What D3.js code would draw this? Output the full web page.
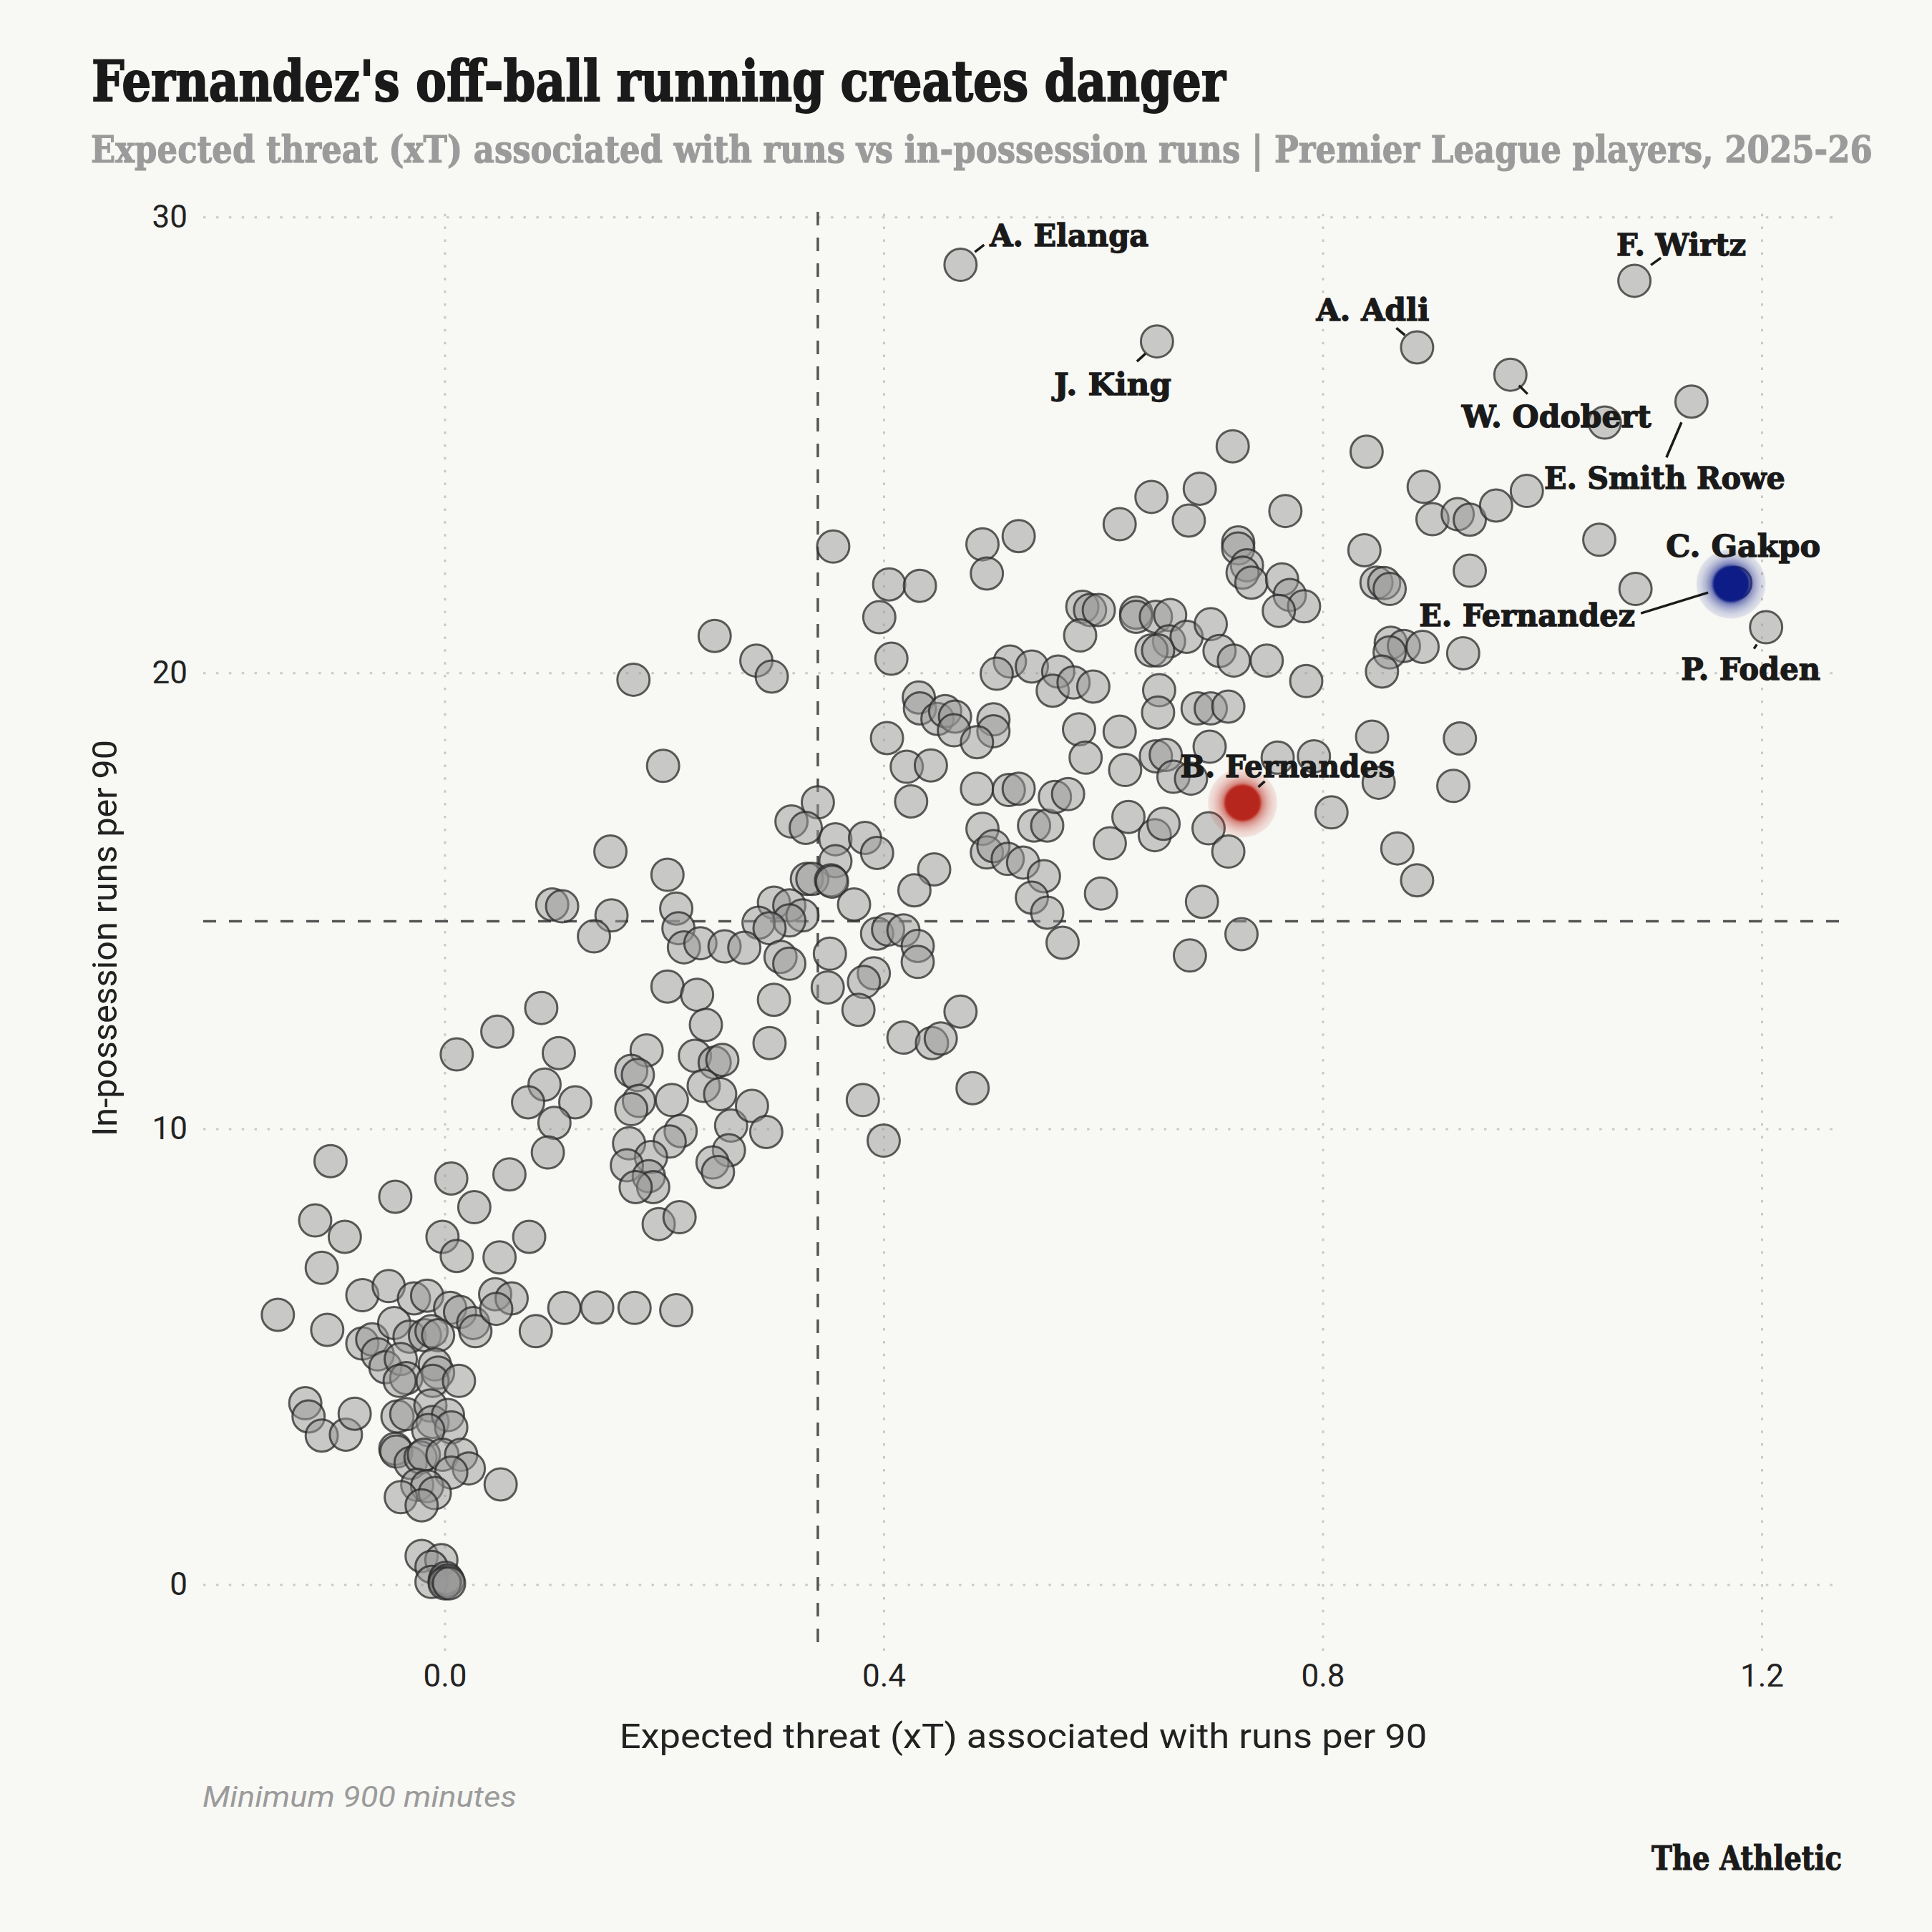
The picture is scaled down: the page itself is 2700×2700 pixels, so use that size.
<!DOCTYPE html>
<html><head><meta charset="utf-8">
<script src="https://cdn.jsdelivr.net/npm/d3@7"></script>
<style>html,body{margin:0;padding:0;background:#f8f8f4;}svg{display:block;}</style>
</head><body>
<script>
// ---------------- DATA ----------------
const xTicks = [0, 0.4, 0.8, 1.2];
const yTicks = [0, 10, 20, 30];
const xTickLabels = ["0.0", "0.4", "0.8", "1.2"];
const yTickLabels = ["0", "10", "20", "30"];
const avgXT = 0.340;
const avgRuns = 14.55;

// [xT from runs per 90, in-possession runs per 90]
const grayPoints = [
[-0.118,7.99],[-0.091,7.63],[-0.112,6.95],[-0.152,5.92],[-0.075,6.35],[-0.051,6.55],[-0.028,6.28],[-0.016,6.34],[-0.107,5.59],[-0.002,7.63],[0.011,7.21],[0.050,7.18],[0.077,7.63],
[0.005,6.07],[0.014,5.98],[0.026,5.74],[0.028,5.56],[0.046,6.37],[0.061,6.28],[0.047,6.05],[0.083,5.56],[0.109,6.07],[0.139,6.08],[0.173,6.07],[0.211,6.02],
[-0.075,5.29],[-0.066,5.38],[-0.061,5.05],[-0.054,4.77],[-0.046,5.74],[-0.032,5.44],[-0.018,5.47],[-0.012,5.56],[-0.006,5.47],[-0.040,4.95],[-0.035,4.53],[-0.041,4.47],[-0.009,4.83],[-0.006,4.65],[-0.011,4.47],[0.013,4.47],
[-0.127,3.98],[-0.124,3.69],[-0.112,3.27],[-0.090,3.29],[-0.082,3.75],[-0.043,3.69],[-0.035,3.74],[-0.013,3.93],[-0.011,3.57],[0.003,3.72],[0.006,3.45],[-0.015,3.39],
[-0.045,2.98],[-0.044,2.92],[-0.031,2.67],[-0.022,2.79],[-0.019,2.85],[-0.002,2.85],[0.015,2.85],[0.022,2.55],[0.006,2.46],[-0.025,2.19],[-0.016,2.16],[-0.009,2.01],[-0.040,1.92],[-0.021,1.74],[0.051,2.20],
[-0.021,0.63],[-0.003,0.54],[-0.012,0.39],[-0.012,0.06],[0.000,0.09],[0.001,0.15],[0.003,0.09],[0.000,0.03],[0.004,0.03],
[0.151,16.08],[0.203,15.57],[0.098,14.92],[0.107,14.88],[0.152,14.68],[0.136,14.22],[0.211,14.83],[0.213,14.40],[0.218,13.98],[0.233,14.07],[0.255,14.00],
[0.203,13.12],[0.230,12.94],[0.238,12.28],[0.088,12.65],[0.048,12.13],[0.011,11.63],[0.104,11.66],[0.091,10.97],[0.076,10.58],[0.119,10.58],[0.100,10.13],[0.094,9.48],
[0.184,11.72],[0.170,11.27],[0.176,11.18],[0.177,10.61],[0.170,10.43],[0.207,10.63],[0.228,11.60],[0.246,11.45],[0.253,11.51],[0.236,10.94],[0.251,10.76],
[0.215,9.95],[0.205,9.72],[0.168,9.68],[0.188,9.38],[0.166,9.20],[0.186,8.96],[0.190,8.72],[0.174,8.72],[0.261,10.07],[0.259,9.53],[0.244,9.26],[0.249,9.05],
[0.195,7.91],[0.214,8.06],[-0.104,9.29],[-0.045,8.51],[0.006,8.91],[0.027,8.28],[0.059,9.00],
[0.340,17.16],[0.316,16.74],[0.329,16.60],[0.356,16.35],[0.383,16.38],[0.394,16.05],[0.356,15.87],[0.330,15.48],[0.335,15.48],[0.352,15.45],[0.353,15.42],
[0.373,14.92],[0.300,14.96],[0.314,14.90],[0.326,14.68],[0.314,14.57],[0.286,14.52],[0.296,14.40],[0.273,13.97],[0.306,13.77],[0.314,13.62],[0.351,13.84],
[0.394,14.28],[0.404,14.37],[0.418,14.35],[0.431,14.01],[0.431,13.66],[0.391,13.41],[0.382,13.22],[0.349,13.10],[0.377,12.61],[0.300,12.83],[0.296,11.88],
[0.425,17.18],[0.446,15.69],[0.428,15.23],[0.418,12.00],[0.444,11.88],[0.452,11.98],[0.470,12.57],[0.381,10.63],[0.400,9.74],[0.481,10.89],
[0.490,16.58],[0.494,16.06],[0.500,16.20],[0.513,15.92],[0.527,15.84],[0.546,15.54],[0.535,15.07],[0.549,14.74],[0.563,14.08],[0.537,16.65],[0.549,16.65],
[0.485,17.46],[0.514,17.43],[0.523,17.46],[0.556,17.28],[0.568,17.34],[0.606,16.26],[0.623,16.84],[0.647,16.44],[0.655,16.69],[0.598,15.16],[0.690,14.98],[0.679,13.80],[0.696,16.59],
[0.280,10.50],[0.293,9.93],
[0.246,20.81],[0.172,19.85],[0.199,17.96],
[0.354,22.77],[0.405,21.94],[0.433,21.91],[0.396,21.22],[0.407,20.31],[0.284,20.27],[0.298,19.92],[0.490,22.82],[0.523,23.00],[0.494,22.18],
[0.615,23.26],[0.644,23.86],[0.688,24.04],[0.678,23.34],[0.581,21.45],[0.588,21.38],[0.596,21.38],[0.579,20.82],[0.630,21.32],[0.630,21.23],[0.648,21.23],[0.661,21.27],
[0.660,20.69],[0.676,20.79],[0.644,20.49],[0.650,20.49],[0.698,21.07],[0.706,20.48],[0.515,20.25],[0.503,19.98],[0.535,20.14],[0.559,20.03],[0.554,19.61],[0.573,19.79],[0.591,19.70],
[0.432,19.46],[0.433,19.22],[0.449,18.99],[0.456,19.16],[0.465,19.04],[0.464,18.74],[0.500,18.98],[0.500,18.72],[0.485,18.48],[0.403,18.57],[0.421,17.94],[0.443,17.97],
[0.578,18.76],[0.584,18.14],[0.615,18.71],[0.620,17.87],[0.651,19.62],[0.650,19.13],[0.686,19.22],[0.698,19.22],[0.697,18.38],[0.648,18.17],[0.657,18.20],[0.664,17.72],
[0.718,24.97],[0.766,23.55],[0.840,24.85],[0.892,24.08],[0.900,23.37],[0.923,23.48],[0.934,23.36],[0.958,23.67],[0.986,23.99],[1.057,25.49],[1.052,22.92],[1.085,21.84],
[0.934,22.24],[0.838,22.69],[0.849,21.98],[0.856,21.97],[0.861,21.84],[0.723,22.86],[0.723,22.73],[0.731,22.36],[0.727,22.20],[0.735,21.98],[0.763,22.05],[0.770,21.71],[0.783,21.46],[0.760,21.36],
[0.719,20.27],[0.749,20.27],[0.785,19.82],[0.862,20.66],[0.874,20.59],[0.891,20.57],[0.861,20.45],[0.854,20.03],[0.928,20.43],[0.714,19.26],[0.759,18.14],[0.792,18.17],[0.680,17.68],
[0.714,16.08],[0.845,18.60],[0.851,17.59],[0.925,18.56],[0.919,17.52],[0.808,16.94],[0.868,16.15],[0.886,15.45],[0.726,14.27]
];

// labelled players
const labelNames = ["A. Elanga","J. King","A. Adli","F. Wirtz","W. Odobert","E. Smith Rowe","C. Gakpo","E. Fernandez","P. Foden","B. Fernandes"];
const labelXT    = [0.470, 0.649, 0.886, 1.084, 0.971, 1.136, 1.176, 1.172, 1.204, 0.727];
const labelRuns  = [28.95, 27.27, 27.14, 28.60, 26.54, 25.95, 21.97, 21.95, 21.00, 17.15];
const highlighted = ["E. Fernandez", "B. Fernandes"];

// ---------------- STYLE / LAYOUT ----------------
const W = 2700, H = 2700;
const bg = "#f8f8f4";
const highlightColor = {"E. Fernandez": "#0a1a86", "B. Fernandes": "#b7251a"};
// label placement offsets (px, relative to the point)
const labelLayout = {
  "A. Elanga":    {dx: 41,  dy: -26, anchor: "start", w: 222, lead: [20,-18,33,-28]},
  "J. King":      {dx: 20,  dy: 75,  anchor: "end",   w: 164, lead: [-28,28,-16,17]},
  "A. Adli":      {dx: 17,  dy: -37, anchor: "end",   w: 158, lead: [-29,-27,-17,-17]},
  "F. Wirtz":     {dx: -25, dy: -35, anchor: "start", w: 181, lead: [23,-22,37,-32]},
  "W. Odobert":   {dx: -68, dy: 73,  anchor: "start", w: 265, lead: [12,15,24,27]},
  "E. Smith Rowe":{dx: 131, dy: 122, anchor: "end",   w: 337, lead: [-14,29,-35,78]},
  "C. Gakpo":     {dx: -97, dy: -37, anchor: "start", w: 216, lead: null},
  "E. Fernandez": {dx: -134,dy: 59,  anchor: "end",   w: 302, lead: [-126,41,-32,12]},
  "P. Foden":     {dx: 76,  dy: 73,  anchor: "end",   w: 195, lead: [-17,30,-13,24]},
  "B. Fernandes": {dx: -87, dy: -36, anchor: "start", w: 300, lead: [22,-22,31,-30]}
};
const slab = "'DejaVu Serif', serif";
const sans = "Roboto, 'Liberation Sans', sans-serif";

const svg = d3.select("body").append("svg").attr("width", W).attr("height", H);
svg.append("rect").attr("width", W).attr("height", H).attr("fill", bg);

// helper: put a text at (tx,ty) and squeeze it horizontally to a target width
function fitText(sel, tx, ty, width) {
  const len = sel.node().getComputedTextLength();
  const s = len > 0 ? width / len : 1;
  sel.attr("x", 0).attr("y", 0).attr("transform", `translate(${tx},${ty}) scale(${s},1)`);
  return sel;
}

const x = d3.scaleLinear().domain([-0.22, 1.273]).range([284, 2574]);
const y = d3.scaleLinear().domain([-1.45, 30.05]).range([2307, 300]);

// gridlines
const gridStyle = g => {
  g.select(".domain").remove();
  g.selectAll(".tick line").attr("stroke", "#c9c9c5").attr("stroke-width", 3).attr("stroke-dasharray", "3.5 14.4");
  g.selectAll(".tick text").remove();
};
svg.append("g").attr("transform", `translate(0,${y.range()[0]})`)
  .call(d3.axisBottom(x).tickValues(xTicks).tickSize(-(y.range()[0] - 290)))
  .call(gridStyle);
svg.append("g").attr("transform", `translate(${x.range()[0]},0)`)
  .call(d3.axisLeft(y).tickValues(yTicks).tickSize(-(x.range()[1] - x.range()[0])))
  .call(gridStyle);

// axes labels
const xAxis = svg.append("g").attr("transform", `translate(0,${y.range()[0]})`)
  .call(d3.axisBottom(x).tickValues(xTicks).tickFormat((d, i) => xTickLabels[i]).tickSize(0).tickPadding(19));
const yAxis = svg.append("g").attr("transform", `translate(${x.range()[0]},0)`)
  .call(d3.axisLeft(y).tickValues(yTicks).tickFormat((d, i) => yTickLabels[i]).tickSize(0).tickPadding(22));
[xAxis, yAxis].forEach(g => {
  g.select(".domain").remove();
  g.selectAll("text").attr("font-family", sans).attr("font-size", 44).attr("fill", "#222");
});

// average lines
svg.append("line").attr("x1", x(avgXT)).attr("x2", x(avgXT)).attr("y1", 296).attr("y2", y.range()[0])
  .attr("stroke", "#555").attr("stroke-width", 3.5).attr("stroke-dasharray", "19 17");
svg.append("line").attr("x1", x.range()[0]).attr("x2", x.range()[1] + 2).attr("y1", y(avgRuns)).attr("y2", y(avgRuns))
  .attr("stroke", "#555").attr("stroke-width", 3.5).attr("stroke-dasharray", "18 18");

// points
const labelled = labelNames.map((n, i) => ({name: n, x: labelXT[i], y: labelRuns[i]}));
const grayAll = grayPoints.map(p => ({x: p[0], y: p[1]}))
  .concat(labelled.filter(d => !highlighted.includes(d.name)));

svg.append("g").selectAll("circle").data(grayAll).join("circle")
  .attr("cx", d => x(d.x)).attr("cy", d => y(d.y)).attr("r", 22.5)
  .attr("fill", "#979797").attr("fill-opacity", 0.5)
  .attr("stroke", "#2a2a2a").attr("stroke-opacity", 0.75).attr("stroke-width", 3);

// highlight glows
const defs = svg.append("defs");
highlighted.forEach((n, i) => {
  const gr = defs.append("radialGradient").attr("id", "glow" + i);
  [[0, 1], [0.5, 0.72], [0.6, 0.48], [0.72, 0.3], [0.85, 0.17], [0.97, 0.1], [1, 0]].forEach(s =>
    gr.append("stop").attr("offset", s[0]).attr("stop-color", highlightColor[n]).attr("stop-opacity", s[1]));
});
defs.append("filter").attr("id", "soft").append("feGaussianBlur").attr("stdDeviation", 0.8);
const hl = labelled.filter(d => highlighted.includes(d.name));
const hg = svg.append("g");
hl.forEach(d => {
  const i = highlighted.indexOf(d.name);
  hg.append("circle").attr("cx", x(d.x)).attr("cy", y(d.y)).attr("r", 49).attr("fill", `url(#glow${i})`);
  hg.append("circle").attr("cx", x(d.x)).attr("cy", y(d.y)).attr("r", 25).attr("fill", highlightColor[d.name])
    .attr("filter", "url(#soft)");
});

// labels
const lg = svg.append("g");
labelled.forEach(d => {
  const L = labelLayout[d.name];
  const px = x(d.x), py = y(d.y);
  const t = lg.append("text").attr("text-anchor", L.anchor)
    .attr("font-family", slab).attr("font-weight", "bold").attr("font-size", 42).attr("fill", "#1a1a1a")
    .attr("stroke", "#1a1a1a").attr("stroke-width", 1.3).text(d.name);
  fitText(t, px + L.dx, py + L.dy, L.w);
  if (L.lead) {
    lg.append("line").attr("x1", px + L.lead[0]).attr("y1", py + L.lead[1]).attr("x2", px + L.lead[2]).attr("y2", py + L.lead[3])
      .attr("stroke", "#1a1a1a").attr("stroke-width", 3.5);
  }
});

// titles
fitText(svg.append("text").attr("font-family", slab).attr("font-weight", "bold")
  .attr("font-size", 78).attr("fill", "#1a1a1a").attr("stroke", "#1a1a1a").attr("stroke-width", 2)
  .text("Fernandez's off-ball running creates danger"), 128, 141, 1585);
fitText(svg.append("text").attr("font-family", slab).attr("font-weight", "bold")
  .attr("font-size", 52).attr("fill", "#9b9b9b").attr("stroke", "#9b9b9b").attr("stroke-width", 1.2)
  .text("Expected threat (xT) associated with runs vs in-possession runs | Premier League players, 2025-26"), 127, 227, 2490);

// axis titles
fitText(svg.append("text").attr("text-anchor", "middle").attr("font-family", sans)
  .attr("font-size", 48).attr("fill", "#222")
  .text("Expected threat (xT) associated with runs per 90"), 1430, 2443, 1129);
const yt = svg.append("text").attr("text-anchor", "middle").attr("font-family", sans)
  .attr("font-size", 48).attr("fill", "#222").text("In-possession runs per 90");
const ytl = yt.node().getComputedTextLength();
yt.attr("transform", `translate(163,1311) rotate(-90) scale(${554 / ytl},1)`);

// footnotes
fitText(svg.append("text").attr("font-family", sans).attr("font-style", "italic")
  .attr("font-size", 41).attr("fill", "#9b9b9b").text("Minimum 900 minutes"), 283, 2525, 439);
fitText(svg.append("text").attr("text-anchor", "end").attr("font-family", slab).attr("font-weight", "bold")
  .attr("font-size", 47).attr("fill", "#1a1a1a").attr("stroke", "#1a1a1a").attr("stroke-width", 1.2)
  .text("The Athletic"), 2574, 2613, 266);
</script>
</body></html>
